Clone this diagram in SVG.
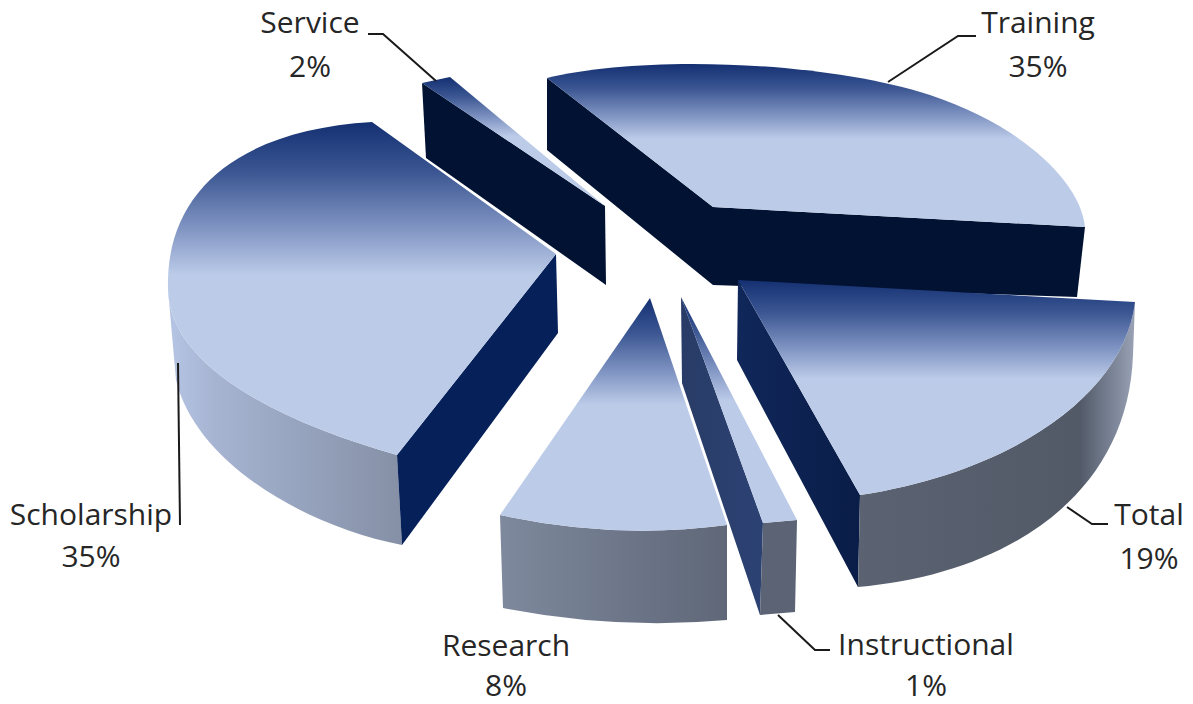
<svg xmlns="http://www.w3.org/2000/svg" width="1193" height="704" viewBox="0 0 1193 704">
  <defs>
    <linearGradient id="topG" x1="0" y1="0" x2="0" y2="1">
      <stop offset="0" stop-color="#143072"/>
      <stop offset="0.15" stop-color="#3b5692"/>
      <stop offset="0.33" stop-color="#8599c6"/>
      <stop offset="0.46" stop-color="#bccbe8"/>
      <stop offset="1" stop-color="#bccbe8"/>
    </linearGradient>
    <linearGradient id="scholSide" x1="0" y1="0" x2="1" y2="0">
      <stop offset="0" stop-color="#b6c5e4"/>
      <stop offset="0.2" stop-color="#a6b4d2"/>
      <stop offset="1" stop-color="#8590a6"/>
    </linearGradient>
    <linearGradient id="resSide" x1="0" y1="0" x2="1" y2="0">
      <stop offset="0" stop-color="#7e899d"/>
      <stop offset="1" stop-color="#5f6778"/>
    </linearGradient>
    <linearGradient id="totSide" x1="0" y1="0" x2="1" y2="0">
      <stop offset="0" stop-color="#5b6372"/>
      <stop offset="0.8" stop-color="#525a68"/>
      <stop offset="0.93" stop-color="#7f889b"/>
      <stop offset="1" stop-color="#9aa3b6"/>
    </linearGradient>
    <linearGradient id="totDark" x1="0" y1="0" x2="1" y2="0">
      <stop offset="0" stop-color="#10275a"/>
      <stop offset="1" stop-color="#0a1d48"/>
    </linearGradient>
    <linearGradient id="insDark" x1="0" y1="0" x2="1" y2="0">
      <stop offset="0" stop-color="#293c67"/>
      <stop offset="1" stop-color="#2c4273"/>
    </linearGradient>
  </defs>
  <style>
    .top { fill: url(#topG); }
    .navy { fill: #021232; }
    .lbl { font-family: "Open Sans", "Liberation Sans", sans-serif; font-size: 30px; fill: #262626; text-anchor: middle; }
    .lead { fill: none; stroke: #1a1a1a; stroke-width: 2; }
  </style>
  <rect width="1193" height="704" fill="#ffffff"/>

  <g id="training">
    <path class="navy" d="M547,78 L713,207 L713,285 L547,150 Z"/>
    <path class="navy" d="M713,207 L1085,227 L1077,297 L713,285 Z"/>
    <path class="top" d="M547,78 C640,55 820,60 930,95 C1020,125 1080,180 1085,227 L713,207 Z"/>
    <text class="lbl" x="1038" y="33">Training</text>
    <text class="lbl" x="1038" y="77">35%</text>
  </g>

  <g id="service">
    <path class="navy" d="M422,83 L605,206 L606,285 L426,158 Z"/>
    <path class="top" d="M422,83 L450,77 L605,206 Z"/>
    <text class="lbl" x="310" y="33">Service</text>
    <text class="lbl" x="310" y="77">2%</text>
  </g>

  <g id="scholarship">
    <path fill="url(#scholSide)" d="M168,290 C170,370 290,425 397,455 L402,545 C300,525 195,460 176,380 Z"/>
    <path fill="#06205a" d="M556,254 L397,455 L402,545 L558,333 Z"/>
    <path class="top" d="M372,122 C240,130 165,190 168,290 C170,370 290,425 397,455 L556,254 Z"/>
    <text class="lbl" x="91" y="525">Scholarship</text>
    <text class="lbl" x="91" y="567">35%</text>
  </g>

  <g id="research">
    <path fill="url(#resSide)" d="M500,515 Q615,540 727,525 L727,620 Q615,630 503,608 Z"/>
    <path class="top" d="M650,298 L500,515 Q615,540 727,525 Z"/>
    <text class="lbl" x="506" y="656">Research</text>
    <text class="lbl" x="506" y="696">8%</text>
  </g>

  <g id="instructional">
    <path fill="url(#insDark)" d="M681,297 L763,523 L760,615 L682,383 Z"/>
    <path fill="#5b6374" d="M763,523 L797,520 L795,612 L760,615 Z"/>
    <path class="top" d="M681,297 L797,520 L763,523 Z"/>
    <text class="lbl" x="926" y="655">Instructional</text>
    <text class="lbl" x="926" y="696">1%</text>
  </g>

  <g id="total">
    <path fill="url(#totDark)" d="M738,280 L860,495 L858,587 L737,360 Z"/>
    <path fill="url(#totSide)" d="M860,495 C1020,470 1125,390 1135,302 L1133,355 C1128,500 1000,575 858,587 Z"/>
    <path class="top" d="M738,280 L1135,302 C1125,390 1020,470 860,495 Z"/>
    <text class="lbl" x="1149" y="525">Total</text>
    <text class="lbl" x="1149" y="569">19%</text>
  </g>

  <g id="connectors">
    <polyline class="lead" points="368,34 383,34 436,81"/>
    <polyline class="lead" points="888,82 958,36 976,36"/>
    <polyline class="lead" points="178,363 180,525"/>
    <polyline class="lead" points="1067,507 1092,524 1108,524"/>
    <polyline class="lead" points="778,615 815,650 830,650"/>
  </g>
</svg>
